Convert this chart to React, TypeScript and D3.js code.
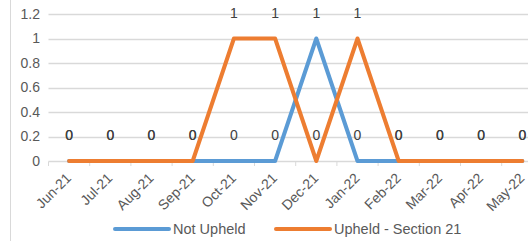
import React from "react";
import * as d3 from "d3";

const months = ["Jun-21","Jul-21","Aug-21","Sep-21","Oct-21","Nov-21","Dec-21","Jan-22","Feb-22","Mar-22","Apr-22","May-22"];
const notUpheld = [0,0,0,0,0,0,1,0,0,0,0,0];
const upheld = [0,0,0,0,1,1,0,1,0,0,0,0];
const yTicks = [0,0.2,0.4,0.6,0.8,1,1.2];
const seriesNames = ["Not Upheld","Upheld - Section 21"];
const colors = ["#5B9BD5","#ED7D31"];

export default function App() {
  const W = 528, H = 241;
  const left = 48.5, bandW = 41.2;
  const x = d3.scaleBand<string>().domain(months).range([left, left + bandW * months.length]);
  const y = d3.scaleLinear().domain([0, 1.2]).range([161, 14]);
  const cx = (m: string) => (x(m) as number) + x.bandwidth() / 2;
  const line = d3.line<number>().x((_, i) => cx(months[i])).y(d => y(d));
  const font = "'Liberation Sans', Arial, sans-serif";
  const series = [notUpheld, upheld];
  return (
    <svg width={W} height={H} style={{ position: "absolute", left: 0, top: 0, background: "#fff" }} fontFamily={font}>
      <line x1={10.5} x2={10.5} y1={0} y2={H} stroke="#d9d9d9" />
      {yTicks.map(t => (
        <g key={t}>
          {t > 0 && <line x1={left} x2={W} y1={Math.round(y(t)) + 0.5} y2={Math.round(y(t)) + 0.5} stroke="#d9d9d9" strokeWidth={1.3} />}
          <text x={40} y={y(t)} dy="0.35em" textAnchor="end" fontSize={14} fill="#595959">{t}</text>
        </g>
      ))}
      <line x1={left} x2={W} y1={161.5} y2={161.5} stroke="#d9d9d9" strokeWidth={1.3} />
      {months.map((m, i) => (
        <line key={"t" + m} x1={(x(m) as number)} x2={(x(m) as number)} y1={161.5} y2={166} stroke="#d9d9d9" />
      ))}
      <line x1={left + bandW * 12} x2={left + bandW * 12} y1={161.5} y2={166} stroke="#d9d9d9" />
      {months.map(m => (
        <text key={"l" + m} transform={`translate(${cx(m) + 3},${179}) rotate(-45)`} textAnchor="end" fontSize={14} fill="#595959">{m}</text>
      ))}
      {series.map((s, k) => (
        <path key={"s" + k} d={line(s) || ""} fill="none" stroke={colors[k]} strokeWidth={4} strokeLinejoin="round" strokeLinecap="round" />
      ))}
      {series.map((s, k) => s.map((v, i) => (
        <text key={"d" + k + i} x={cx(months[i])} y={y(v) - 21} textAnchor="middle" fontSize={14} fill="#404040">{v}</text>
      )))}
      {seriesNames.map((n, k) => {
        const lx = k === 0 ? 115 : 276;
        return (
          <g key={n}>
            <line x1={lx} x2={lx + 54} y1={229} y2={229} stroke={colors[k]} strokeWidth={4} strokeLinecap="round" />
            <text x={lx + 58} y={229} dy="0.35em" fontSize={14.5} fill="#595959">{n}</text>
          </g>
        );
      })}
    </svg>
  );
}
